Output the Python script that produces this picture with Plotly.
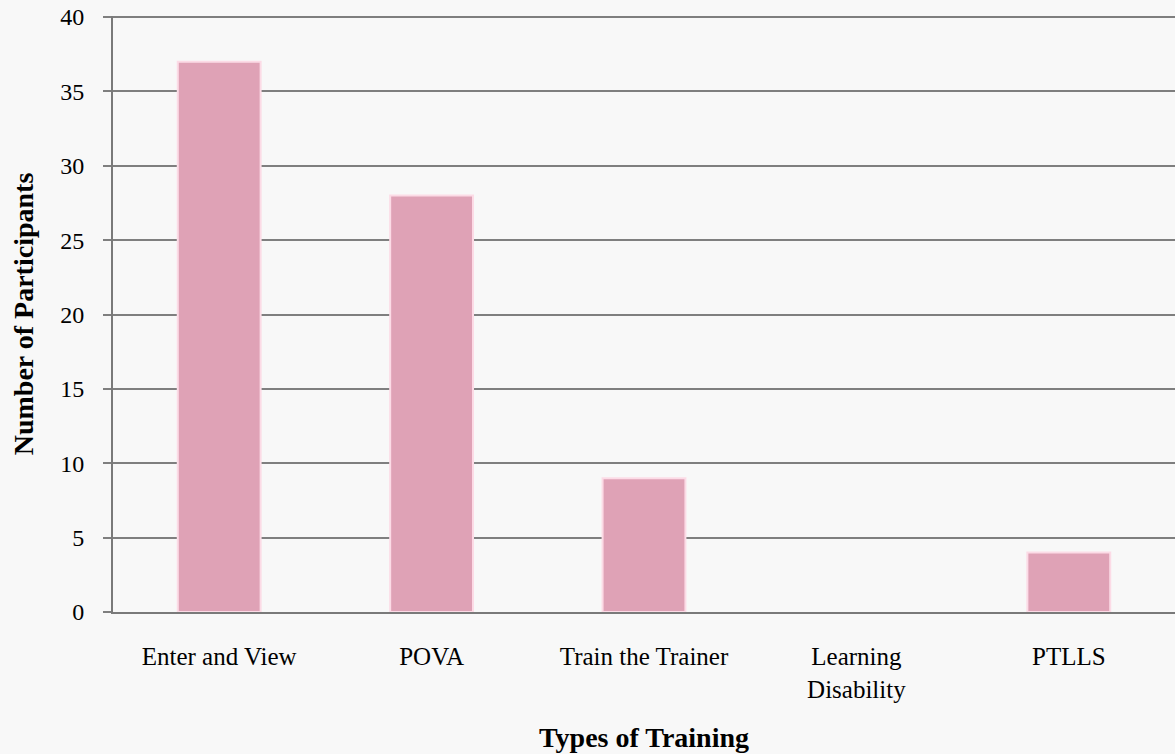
import plotly.graph_objects as go

categories = ["Enter and View", "POVA", "Train the Trainer", "Learning<br>Disability", "PTLLS"]
participants = [37, 28, 9, 0, 4]
y_ticks = [0, 5, 10, 15, 20, 25, 30, 35, 40]

font_family = "Liberation Serif, DejaVu Serif, serif"

fig = go.Figure()
fig.add_trace(go.Bar(
    x=categories,
    y=participants,
    width=0.39,
    marker=dict(
        color="#dfa2b6",
        line=dict(color="#fcdbe6", width=[2 if v > 0 else 0 for v in participants]),
    ),
))

fig.update_layout(
    width=1175, height=754,
    margin=dict(l=113, r=0, t=16, b=142),
    paper_bgcolor="#f8f8f8",
    plot_bgcolor="#f8f8f8",
    showlegend=False,
    font=dict(family=font_family, size=25, color="#000000"),
)
fig.update_xaxes(
    showgrid=False,
    showline=True, linecolor="#7a7a7a", linewidth=2,
    ticks="", tickfont=dict(size=25),
    ticklabelstandoff=21,
    title=dict(text="<b>Types of Training</b>", font=dict(size=28), standoff=26),
    fixedrange=True,
)
fig.update_yaxes(
    range=[0, 40.07],
    tickvals=y_ticks,
    showgrid=True, gridcolor="#7f7f7f", gridwidth=1.5,
    showline=True, linecolor="#7a7a7a", linewidth=2,
    ticks="outside", ticklen=8, tickcolor="#7f7f7f", tickwidth=1.5,
    tickfont=dict(size=24),
    ticklabelstandoff=14,
    title=dict(text="<b>Number of Participants</b>", font=dict(size=28), standoff=18),
    zeroline=False,
)

fig.write_html(
    "out.html",
    config={"displayModeBar": False},
    post_script="document.body.style.margin='0';",
)
